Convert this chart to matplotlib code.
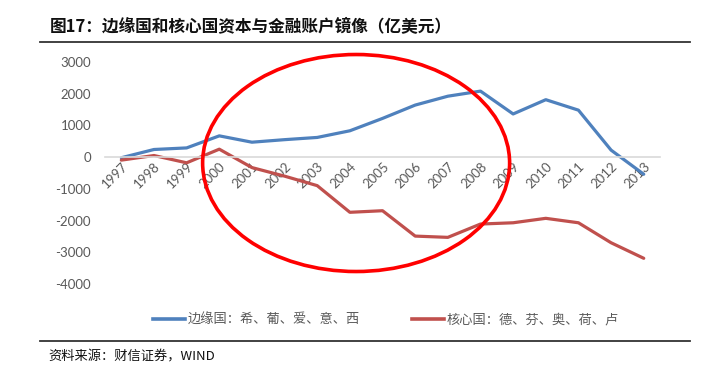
import matplotlib.pyplot as plt
from matplotlib.patches import Ellipse
from matplotlib.lines import Line2D
import numpy as np

plt.rcParams['font.family'] = ['Noto Sans CJK SC', 'DejaVu Sans']

years = [str(y) for y in range(1997, 2014)]
periphery = [-20, 240, 290, 670, 470, 550, 620, 830, 1220, 1640, 1920, 2080,
             1360, 1810, 1480, 220, -540]
core = [-95, 50, -180, 250, -330, -600, -900, -1740, -1690, -2490, -2530,
        -2110, -2070, -1930, -2070, -2700, -3190]
yticks = [3000, 2000, 1000, 0, -1000, -2000, -3000, -4000]

title = '图17：边缘国和核心国资本与金融账户镜像（亿美元）'
label_p = '边缘国：希、葡、爱、意、西'
label_c = '核心国：德、芬、奥、荷、卢'
source = '资料来源：财信证券，WIND'

blue = '#4F81BD'
red = '#C0504D'
grey = '#595959'

fig = plt.figure(figsize=(7.08, 3.77), dpi=100)
ax = fig.add_axes([0.1483, 0.2467, 0.784, 0.589])

x = np.arange(len(years))
ax.plot(x, periphery, color=blue, lw=2.3, solid_capstyle='round')
ax.plot(x, core, color=red, lw=2.3, solid_capstyle='round')

for s in ['top', 'right', 'left']:
    ax.spines[s].set_visible(False)
ax.spines['bottom'].set_position(('data', 0))
ax.spines['bottom'].set_color('#d9d9d9')
ax.spines['bottom'].set_linewidth(1.2)
ax.tick_params(axis='both', length=0)
ax.tick_params(axis='y', pad=10)
ax.tick_params(axis='x', pad=2)

ax.set_xlim(-0.5, len(years) - 0.5)
ax.set_ylim(-4000, 3000)
ax.set_yticks(yticks)
ax.set_yticklabels([str(v) for v in yticks])
ax.set_xticks(x)
ax.set_xticklabels(years)
for t in ax.get_yticklabels():
    t.set_color(grey)
    t.set_fontsize(9.5)
    t.set_family(['Lato', 'DejaVu Sans'])
for t in ax.get_xticklabels():
    t.set_color(grey)
    t.set_fontsize(9.5)
    t.set_family(['Lato', 'DejaVu Sans'])
    t.set_rotation(45)
    t.set_ha('right')
    t.set_va('top')
    t.set_rotation_mode('anchor')

# red highlight ellipse
ell = Ellipse((0.503, 0.5676), 0.4336, 0.5756, transform=fig.transFigure,
              fill=False, edgecolor='#FF0000', lw=2.6)
fig.patches.append(ell)

# title and rules
fig.text(0.071, 0.928, title, fontsize=12, fontweight='bold', va='center',
         color='#111111')
fig.add_artist(Line2D([0.056, 0.975], [0.889, 0.889], color='#333333',
                      lw=1.3, transform=fig.transFigure))
fig.add_artist(Line2D([0.056, 0.975], [0.096, 0.096], color='#333333',
                      lw=1.3, transform=fig.transFigure))
fig.text(0.069, 0.053, source, fontsize=9.5, style='italic', va='center',
         color='#111111')

handles = [Line2D([], [], color=blue, lw=2.6), Line2D([], [], color=red, lw=2.6)]
leg = fig.legend(handles, [label_p, label_c], loc='center',
                 bbox_to_anchor=(0.545, 0.151), ncol=2, frameon=False,
                 fontsize=9.5, handlelength=2.4, handletextpad=0.2,
                 columnspacing=4.0)
for t in leg.get_texts():
    t.set_color(grey)

fig.savefig('out.png', dpi=100)
